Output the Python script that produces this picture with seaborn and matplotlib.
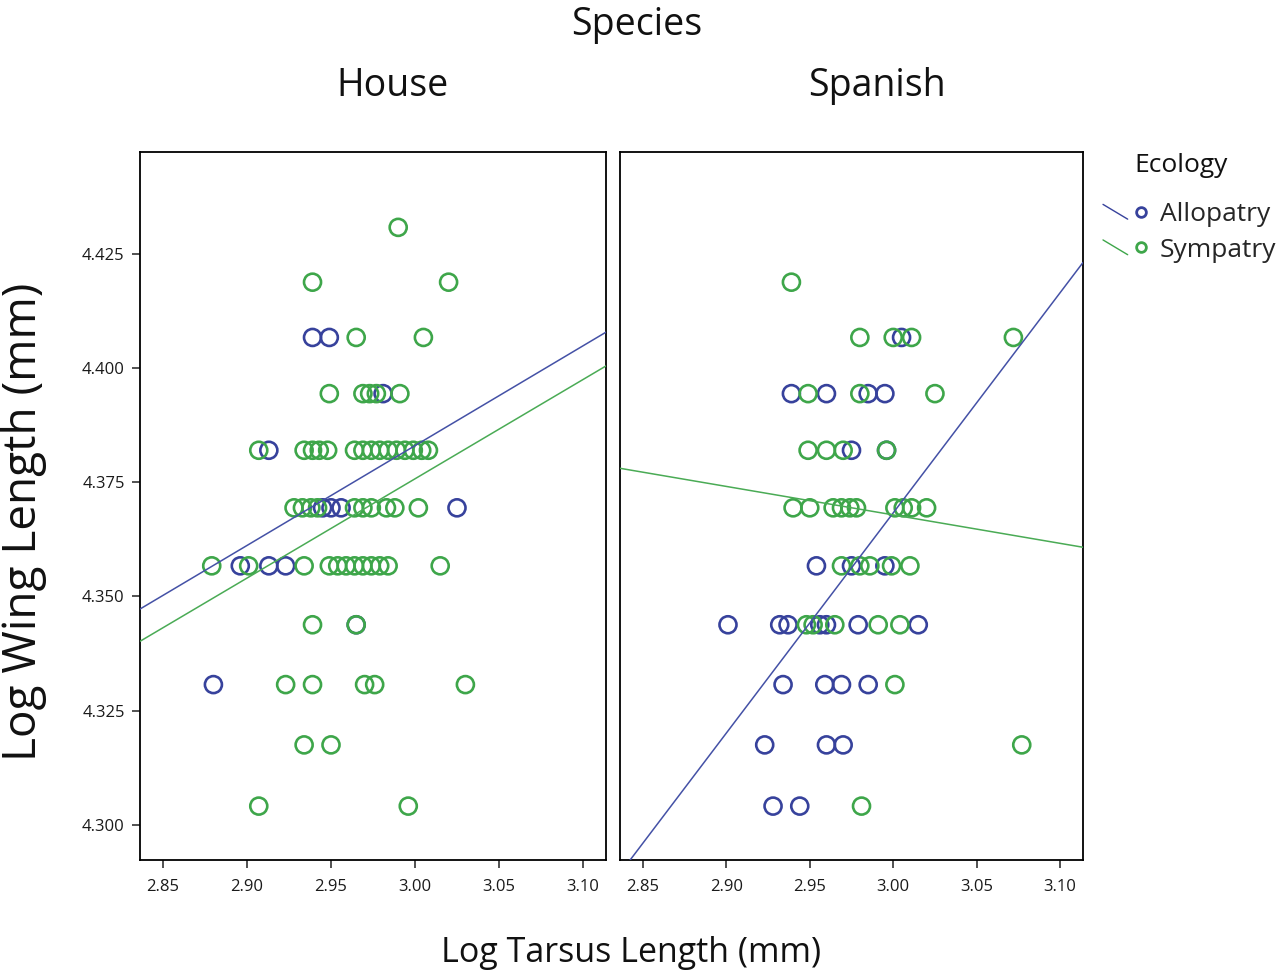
import numpy as np
import pandas as pd
import matplotlib
matplotlib.use("Agg")
import matplotlib.pyplot as plt
from matplotlib.lines import Line2D
from matplotlib.legend_handler import HandlerBase
import seaborn as sns

# ---------------- data ----------------
species_panels = ["House", "Spanish"]
ecology_levels = ["Allopatry", "Sympatry"]
x_ticks = [2.85, 2.90, 2.95, 3.00, 3.05, 3.10]
y_ticks = [4.300, 4.325, 4.350, 4.375, 4.400, 4.425]

house_allo_x = [2.939, 2.949, 2.981, 2.913, 2.945, 2.950, 2.956, 3.025,
                2.896, 2.913, 2.923, 2.965, 2.880]
house_allo_y = [4.4067, 4.4067, 4.3944, 4.3820, 4.3694, 4.3694, 4.3694, 4.3694,
                4.3567, 4.3567, 4.3567, 4.3438, 4.3307]

house_sym_x = [2.990,
               2.939, 3.020,
               2.965, 3.005,
               2.949, 2.969, 2.973, 2.977, 2.991,
               2.907, 2.934, 2.939, 2.943, 2.948, 2.964, 2.969, 2.974, 2.979,
               2.984, 2.989, 2.994, 2.999, 3.004, 3.008,
               2.928, 2.933, 2.938, 2.942, 2.964, 2.969, 2.974, 2.983, 2.988, 3.002,
               2.879, 2.901, 2.934, 2.949, 2.954, 2.959, 2.964, 2.969, 2.974,
               2.979, 2.984, 3.015,
               2.939, 2.965,
               2.923, 2.939, 2.970, 2.976, 3.030,
               2.934, 2.950,
               2.907, 2.996]
house_sym_y = [4.4308,
               4.4188, 4.4188,
               4.4067, 4.4067,
               4.3944, 4.3944, 4.3944, 4.3944, 4.3944,
               4.3820, 4.3820, 4.3820, 4.3820, 4.3820, 4.3820, 4.3820, 4.3820, 4.3820,
               4.3820, 4.3820, 4.3820, 4.3820, 4.3820, 4.3820,
               4.3694, 4.3694, 4.3694, 4.3694, 4.3694, 4.3694, 4.3694, 4.3694, 4.3694, 4.3694,
               4.3567, 4.3567, 4.3567, 4.3567, 4.3567, 4.3567, 4.3567, 4.3567, 4.3567,
               4.3567, 4.3567, 4.3567,
               4.3438, 4.3438,
               4.3307, 4.3307, 4.3307, 4.3307, 4.3307,
               4.3175, 4.3175,
               4.3041, 4.3041]

spanish_allo_x = [3.005,
                  2.939, 2.960, 2.985, 2.995,
                  2.975, 2.996,
                  2.954, 2.975, 2.995,
                  2.901, 2.932, 2.937, 2.956, 2.960, 2.979, 3.015,
                  2.934, 2.959, 2.969, 2.985,
                  2.923, 2.960, 2.970,
                  2.928, 2.944]
spanish_allo_y = [4.4067,
                  4.3944, 4.3944, 4.3944, 4.3944,
                  4.3820, 4.3820,
                  4.3567, 4.3567, 4.3567,
                  4.3438, 4.3438, 4.3438, 4.3438, 4.3438, 4.3438, 4.3438,
                  4.3307, 4.3307, 4.3307, 4.3307,
                  4.3175, 4.3175, 4.3175,
                  4.3041, 4.3041]

spanish_sym_x = [2.939,
                 2.980, 3.000, 3.011, 3.072,
                 2.949, 2.980, 3.025,
                 2.949, 2.960, 2.970, 2.996,
                 2.940, 2.950, 2.964, 2.969, 2.974, 2.978, 3.001, 3.006, 3.011, 3.020,
                 2.969, 2.980, 2.986, 2.999, 3.010,
                 2.948, 2.952, 2.965, 2.991, 3.004,
                 3.001,
                 3.077,
                 2.981]
spanish_sym_y = [4.4188,
                 4.4067, 4.4067, 4.4067, 4.4067,
                 4.3944, 4.3944, 4.3944,
                 4.3820, 4.3820, 4.3820, 4.3820,
                 4.3694, 4.3694, 4.3694, 4.3694, 4.3694, 4.3694, 4.3694, 4.3694, 4.3694, 4.3694,
                 4.3567, 4.3567, 4.3567, 4.3567, 4.3567,
                 4.3438, 4.3438, 4.3438, 4.3438, 4.3438,
                 4.3307,
                 4.3175,
                 4.3041]

frames = []
for sp, eco, xs, ys in [("House", "Allopatry", house_allo_x, house_allo_y),
                        ("House", "Sympatry", house_sym_x, house_sym_y),
                        ("Spanish", "Allopatry", spanish_allo_x, spanish_allo_y),
                        ("Spanish", "Sympatry", spanish_sym_x, spanish_sym_y)]:
    frames.append(pd.DataFrame({"Species": sp, "Ecology": eco,
                                "tarsus": xs, "wing": ys}))
df = pd.DataFrame(pd.concat(frames, ignore_index=True))

# ---------------- style ----------------
sns.set_theme(style="ticks")
plt.rcParams["font.family"] = ["Open Sans", "DejaVu Sans"]

point_colors = {"Allopatry": "#37429c", "Sympatry": "#3ea64a"}
line_colors = {"Allopatry": "#4451a6", "Sympatry": "#4aab55"}

W, H = 1279, 975
fig = plt.figure(figsize=(W / 100, H / 100), dpi=100)

def fx(px):
    return px / W

def fy(py):
    return 1 - py / H

xlim = (2.8363, 3.1137)
ylim = (4.2923, 4.4473)

ax_h = fig.add_axes([fx(140), fy(860), fx(606) - fx(140), fy(152) - fy(860)])
ax_s = fig.add_axes([fx(620), fy(860), fx(1083) - fx(620), fy(152) - fy(860)])
axes = {"House": ax_h, "Spanish": ax_s}

for sp in species_panels:
    ax = axes[sp]
    ax.set_xlim(*xlim)
    ax.set_ylim(*ylim)
    for eco in ecology_levels:
        sub = df[(df["Species"] == sp) & (df["Ecology"] == eco)]
        sns.regplot(data=sub, x="tarsus", y="wing", ax=ax, ci=None,
                    truncate=False, marker="o", color=point_colors[eco],
                    scatter_kws=dict(facecolors="none", s=150, linewidths=1.9,
                                     alpha=1, zorder=2),
                    line_kws=dict(lw=1.1, color=line_colors[eco], zorder=3))
    ax.set_xlim(*xlim)
    ax.set_ylim(*ylim)
    ax.set_xlabel("")
    ax.set_ylabel("")
    ax.set_xticks(x_ticks)
    ax.set_xticklabels([f"{v:.2f}" for v in x_ticks])
    ax.set_yticks(y_ticks)
    ax.set_yticklabels([f"{v:.3f}" for v in y_ticks])
    for s in ax.spines.values():
        s.set_visible(True)
        s.set_color("black")
        s.set_linewidth(1.3)
    ax.tick_params(axis="both", direction="out", length=6, width=1.2,
                   color="#333333", labelsize=12, labelcolor="#1a1a1a", pad=5)
    ax.tick_params(axis="x", pad=8)

ax_s.tick_params(axis="y", left=False, labelleft=False)

# ---------------- titles / labels ----------------
fig.text(fx(637), fy(25), "Species", ha="center", va="center", fontsize=27, color="#111111")
fig.text(fx(393), fy(86), "House", ha="center", va="center", fontsize=27, color="#111111")
fig.text(fx(877), fy(86), "Spanish", ha="center", va="center", fontsize=27, color="#111111")
fig.text(fx(24), fy(522), "Log Wing Length (mm)", ha="center", va="center",
         rotation=90, fontsize=33, color="#111111")
fig.text(fx(631), fy(953), "Log Tarsus Length (mm)", ha="center", va="center",
         fontsize=24.5, color="#111111")

# ---------------- legend ----------------
class SlashCircleHandler(HandlerBase):
    def create_artists(self, legend, orig_handle, xdescent, ydescent,
                       width, height, fontsize, trans):
        c = orig_handle.get_color()
        x0, y0 = -xdescent, -ydescent
        seg = Line2D([x0, x0 + 0.55 * width], [y0 + 0.9 * height, y0 + 0.1 * height],
                     color=c, lw=1.0, transform=trans)
        dot = Line2D([x0 + 0.85 * width], [y0 + 0.5 * height], marker="o",
                     markersize=7, markerfacecolor="none", markeredgecolor=c,
                     markeredgewidth=2.0, linestyle="none", transform=trans)
        return [seg, dot]

fig.text(fx(1181), fy(165), "Ecology", ha="center", va="center", fontsize=19,
         color="#111111")
handles = [Line2D([], [], color=point_colors[e]) for e in ecology_levels]
leg = fig.legend(handles, ecology_levels, loc="upper left",
                 bbox_to_anchor=(fx(1103), fy(202)), frameon=False, borderpad=0,
                 borderaxespad=0, fontsize=19, handlelength=1.7,
                 handletextpad=0.45, labelspacing=0.4,
                 handler_map={Line2D: SlashCircleHandler()})

fig.savefig("out.png", dpi=100)
